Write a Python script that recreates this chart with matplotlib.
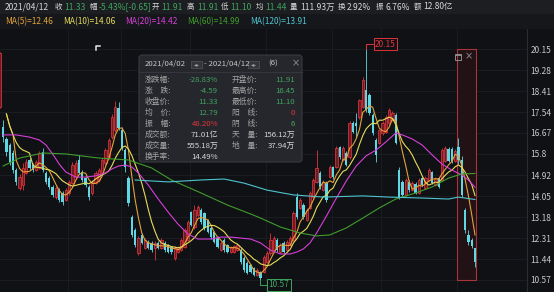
import matplotlib
matplotlib.use("Agg")
import matplotlib.pyplot as plt
import numpy as np
import pandas as pd
from matplotlib.patches import Rectangle, FancyBboxPatch

plt.rcParams['font.family'] = ['Noto Sans CJK SC', 'DejaVu Sans']

# daily candles, index 0 is the one cut by the left edge
opens = [17.75, 16.92, 16.40, 16.17, 15.84, 15.13, 14.39, 14.51, 15.01, 15.55,
         15.34, 15.13, 15.22, 15.88, 15.01, 14.80, 14.43, 14.01, 14.30, 14.18,
         13.89, 14.18, 14.60, 14.85, 15.55, 15.05, 14.80, 14.43, 14.18, 14.60,
         14.72, 15.01, 15.42, 15.67, 16.50, 16.79, 17.71, 16.79, 15.96, 14.80,
         13.18, 12.64, 11.69, 12.44, 11.90, 12.15, 12.11, 11.90, 12.11, 11.90,
         12.11, 12.02, 11.94, 11.48, 11.73, 11.81, 11.94, 12.23, 13.39, 12.77,
         13.27, 13.47, 13.35, 13.06, 12.73, 12.56, 12.31, 11.81, 12.23, 12.02,
         11.73, 11.73, 11.81, 11.81, 11.48, 11.28, 11.19, 11.07, 10.78, 10.90,
         10.90, 11.32, 11.69, 11.81, 12.23, 11.73, 12.11, 11.81, 12.02, 12.23,
         14.01, 13.56, 13.68, 13.06, 13.56, 14.01, 14.64, 15.01, 14.30, 14.60,
         14.85, 15.26, 15.26, 16.09, 15.55, 15.84, 15.67, 17.08, 17.08, 17.33,
         17.75, 18.45, 18.25, 17.42, 16.38, 16.26, 16.67, 16.71, 17.08, 17.21,
         17.42, 15.13, 14.64, 14.10, 14.64, 14.30, 14.55, 14.20, 14.80, 14.40,
         14.72, 15.05, 14.50, 14.80, 14.72, 15.50, 16.00, 16.00, 15.50, 16.10,
         15.55, 13.47, 12.44, 12.25, 11.91]
closes = [19.99, 16.50, 15.90, 15.46, 15.13, 14.64, 14.84, 15.22, 15.47, 15.22,
          15.13, 15.47, 15.84, 15.13, 14.64, 14.43, 14.10, 14.39, 13.89, 13.81,
          14.30, 14.64, 15.34, 15.42, 15.01, 14.72, 14.51, 14.01, 14.64, 15.01,
          15.13, 15.55, 15.96, 16.38, 17.33, 17.75, 16.88, 16.05, 15.26, 13.76,
          12.44, 12.02, 12.31, 12.11, 12.23, 11.90, 11.81, 12.11, 11.90, 12.23,
          11.81, 11.73, 11.73, 11.90, 11.94, 12.23, 12.64, 12.97, 12.85, 13.47,
          13.60, 12.97, 12.73, 12.56, 12.35, 12.15, 11.94, 12.11, 11.81, 11.73,
          11.94, 11.98, 12.02, 11.32, 10.98, 10.86, 10.90, 10.78, 10.98, 10.65,
          11.52, 11.69, 12.23, 12.31, 11.81, 12.02, 11.73, 12.15, 12.31, 13.35,
          13.18, 13.89, 13.18, 13.47, 14.18, 14.72, 15.22, 14.43, 14.64, 13.89,
          15.26, 14.85, 16.05, 15.67, 16.05, 15.34, 17.08, 16.71, 16.96, 18.04,
          18.87, 17.62, 17.50, 16.67, 15.76, 16.79, 17.08, 17.33, 17.62, 17.50,
          16.26, 14.01, 14.10, 14.72, 14.30, 14.60, 14.18, 14.72, 14.51, 14.80,
          15.13, 14.60, 14.80, 14.43, 15.96, 16.05, 15.50, 15.50, 15.92, 15.55,
          14.10, 12.64, 12.15, 11.98, 11.33]
highs = [20.05, 17.20, 16.50, 16.25, 15.95, 15.20, 14.95, 15.42, 15.60, 15.65,
         15.42, 15.55, 15.92, 16.05, 15.10, 14.88, 14.50, 14.47, 14.40, 14.25,
         14.38, 14.72, 15.45, 15.55, 15.75, 15.12, 14.88, 14.50, 14.72, 15.10,
         15.22, 15.62, 16.05, 16.45, 17.45, 18.00, 17.95, 16.90, 16.05, 14.90,
         13.25, 12.72, 12.40, 12.52, 12.30, 12.22, 12.18, 12.18, 12.18, 12.30,
         12.18, 12.08, 12.00, 11.96, 12.00, 12.30, 12.72, 13.05, 13.45, 13.68,
         13.68, 13.55, 13.40, 13.12, 12.80, 12.62, 12.38, 12.18, 12.30, 12.08,
         12.00, 12.04, 12.10, 11.88, 11.55, 11.35, 11.25, 11.12, 11.05, 10.96,
         11.60, 11.78, 12.50, 12.40, 12.30, 12.10, 12.18, 12.22, 12.38, 13.45,
         14.20, 13.98, 13.76, 13.55, 14.25, 14.80, 15.96, 15.10, 14.72, 14.68,
         15.35, 15.32, 16.12, 16.15, 16.12, 15.92, 17.15, 17.15, 17.50, 18.10,
         19.00, 20.15, 18.35, 17.50, 16.45, 16.85, 17.15, 17.40, 17.70, 17.58,
         17.50, 15.25, 14.72, 14.80, 14.70, 14.68, 14.62, 14.80, 14.86, 14.88,
         15.20, 15.10, 14.86, 14.86, 16.05, 16.12, 16.08, 16.10, 16.00, 16.45,
         15.70, 13.55, 12.64, 12.32, 11.91]
lows = [17.70, 16.30, 15.70, 15.35, 15.00, 14.50, 14.30, 14.30, 14.95, 15.15,
        15.05, 15.08, 15.18, 15.05, 14.55, 14.35, 14.00, 13.95, 13.80, 13.70,
        13.85, 14.10, 14.55, 14.80, 14.95, 14.65, 14.42, 13.90, 14.10, 14.55,
        14.65, 14.95, 15.35, 15.60, 16.40, 16.70, 16.80, 15.95, 15.05, 13.65,
        12.35, 11.95, 11.60, 12.05, 11.85, 11.85, 11.75, 11.40, 11.85, 11.85,
        11.75, 11.68, 11.66, 11.40, 11.68, 11.76, 11.90, 12.18, 12.80, 12.70,
        13.20, 12.90, 12.65, 12.50, 12.28, 12.10, 11.88, 11.76, 11.75, 11.68,
        11.68, 11.68, 11.76, 11.25, 10.92, 10.80, 10.85, 10.72, 10.72, 10.57,
        10.85, 11.28, 11.62, 11.75, 11.75, 11.68, 11.68, 11.76, 11.96, 12.18,
        13.10, 13.50, 13.10, 13.00, 13.50, 13.95, 14.58, 14.35, 14.25, 13.80,
        14.80, 14.78, 15.20, 15.60, 15.50, 15.28, 15.60, 16.65, 16.50, 17.25,
        17.70, 17.55, 17.40, 16.60, 15.46, 16.20, 16.60, 16.65, 17.00, 17.15,
        16.20, 13.95, 14.02, 14.05, 14.22, 14.25, 14.12, 14.15, 14.45, 14.35,
        14.66, 14.55, 14.45, 14.38, 14.66, 15.45, 15.45, 15.42, 15.45, 15.40,
        14.00, 12.50, 12.02, 11.90, 11.10]

# first candle of each month (2020/10 .. 2021/04)
month_start = [20, 36, 57, 80, 100, 115, 138]

# slow moving averages (candle index, price)
ma20_idx = [1, 5, 9, 12, 14, 16, 18, 20, 23, 26, 29, 32, 34, 36, 38, 40, 42, 45,
            48, 51, 54, 57, 60, 64, 67, 70, 73, 76, 79, 82, 85, 88, 90, 92, 94,
            96, 99, 102, 105, 108, 111, 114, 117, 120, 122, 125, 128, 131, 134,
            137, 140, 142, 144]
ma20_val = [16.59, 16.59, 16.50, 16.38, 16.17, 15.80, 15.38, 15.05, 14.84, 14.84,
            14.89, 15.01, 15.18, 15.30, 15.34, 15.26, 15.01, 14.51, 13.93, 13.39,
            12.89, 12.48, 12.27, 12.27, 12.35, 12.35, 12.31, 12.27, 12.11, 11.81,
            11.65, 11.65, 11.73, 11.86, 12.11, 12.52, 13.23, 13.97, 14.68, 15.30,
            15.72, 15.96, 16.30, 16.67, 16.59, 16.42, 16.17, 15.76, 15.38, 15.13,
            14.93, 14.72, 14.42]
ma60_idx = [1, 6, 13, 20, 30, 39, 46, 52, 61, 69, 76, 79, 85, 91, 96, 100, 105,
            110, 115, 120, 126, 131, 136, 140, 144]
ma60_val = [15.30, 15.63, 15.84, 15.80, 15.63, 15.55, 15.22, 14.72, 14.18, 13.68,
            13.31, 13.14, 12.77, 12.52, 12.40, 12.44, 12.73, 13.14, 13.56, 13.93,
            14.18, 14.43, 14.80, 14.97, 14.99]
ma120_idx = [41, 51, 61, 68, 74, 81, 89, 98, 110, 118, 128, 136, 139, 144]
ma120_val = [14.72, 14.64, 14.72, 14.76, 14.59, 14.30, 14.10, 14.01, 14.06, 14.01,
             13.97, 13.93, 14.01, 13.91]

price_ticks = [20.15, 19.28, 18.41, 17.54, 16.67, 15.8, 14.92, 14.05, 13.18,
               12.31, 11.44, 10.57]
price_labels = ['20.15', '19.28', '18.41', '17.54', '16.67', '15.8', '14.92',
                '14.05', '13.18', '12.31', '11.44', '10.57']

hdr_date = '2021/04/12'
hdr_keys = ['收', '幅', '开', '高', '低', '均', '量', '换', '振', '额']
hdr_vals = ['11.33', '-5.43%[-0.65]', '11.91', '11.91', '11.10', '11.44',
            '111.93万', '2.92%', '6.76%', '12.80亿']
ma_names = ['MA(5)', 'MA(10)', 'MA(20)', 'MA(60)', 'MA(120)']
ma_last = ['12.46', '14.06', '14.42', '14.99', '13.91']

tip_from, tip_to, tip_count = '2021/04/02', '2021/04/12', '(6)'
tip_left_keys = ['涨跌幅:', '涨\u3000跌:', '收盘价:', '均\u3000价:', '振\u3000幅:',
                 '成交额:', '成交量:', '换手率:']
tip_left_vals = ['-28.83%', '-4.59', '11.33', '12.79', '48.20%', '71.01亿',
                 '555.18万', '14.49%']
tip_right_keys = ['开盘价:', '最高价:', '最低价:', '阳\u3000线:', '阴\u3000线:',
                  '天\u3000量:', '地\u3000量:']
tip_right_vals = ['11.91', '16.45', '11.10', '0', '6', '156.12万', '37.94万']

W, H = 554, 292
BG = '#101115'
RED = '#e0353c'
CYAN = '#5fd8e3'
GRN = '#3fa560'
WHT = '#d8d8d8'
GRY = '#a4a4a4'
ma_cols = ['#e2a33a', '#e6dc5a', '#d63fd8', '#409c2d', '#4ec4cf']

fig = plt.figure(figsize=(W / 100, H / 100), dpi=100, facecolor=BG)
ax = fig.add_axes([0, 0, 527 / W, 263 / H])
ax.set_facecolor(BG)
ax.set_xlim(0.06, 159.76)
ax.set_ylim(10.072, 20.985)

o = np.array(opens)
c = np.array(closes)
hi = np.array(highs)
lo = np.array(lows)
idx = np.arange(len(c))
up = c > o
dn = ~up

for m in month_start:
    ax.axvline(m + 0.65, color='#1c1d22', lw=0.6, zorder=0)

# selected range box
sel0, sel1 = 139, 144
ax.add_patch(Rectangle((sel0 - 0.45, lo.min()), sel1 - sel0 + 0.9, hi.max() - lo.min(),
                       fc='#221216', ec='#a8353a', lw=0.8, zorder=1))

ax.vlines(idx[up], lo[up], hi[up], color=RED, lw=0.6, zorder=3)
ax.vlines(idx[dn], lo[dn], hi[dn], color=CYAN, lw=0.6, zorder=3)
ax.bar(idx[up], c[up] - o[up], bottom=o[up], width=0.72, facecolor='#6a1d22',
       edgecolor=RED, linewidth=0.55, zorder=3)
ax.bar(idx[dn], o[dn] - c[dn], bottom=c[dn], width=0.72, color=CYAN,
       linewidth=0, zorder=3)

cs = pd.Series(c)
ma5 = cs.rolling(5, min_periods=1).mean()
ma10 = cs.rolling(10, min_periods=1).mean()
ax.plot(idx[2:], ma5[2:], color=ma_cols[0], lw=0.8, zorder=4)
ax.plot(idx[2:], ma10[2:], color=ma_cols[1], lw=0.8, zorder=4)
ax.plot(ma20_idx, ma20_val, color=ma_cols[2], lw=0.8, zorder=4)
ax.plot(ma60_idx, ma60_val, color=ma_cols[3], lw=0.8, zorder=4)
ax.plot(ma120_idx, ma120_val, color=ma_cols[4], lw=0.8, zorder=4)

# high / low price tags
imax, imin = int(hi.argmax()), int(lo.argmin())
ax.annotate(f'{hi[imax]:.2f}', xy=(imax, hi[imax]), xytext=(9, 5),
            textcoords='offset pixels', ha='left', va='center', fontsize=6,
            color=RED, zorder=6,
            bbox=dict(boxstyle='square,pad=0.15', fc=BG, ec=RED, lw=0.7),
            arrowprops=dict(arrowstyle='-', color=RED, lw=0.7, shrinkA=0, shrinkB=0,
                            connectionstyle='angle,angleA=0,angleB=90,rad=0'))
ax.annotate(f'{lo[imin]:.2f}', xy=(imin, lo[imin]), xytext=(8, -5),
            textcoords='offset pixels', ha='left', va='center', fontsize=6,
            color=GRN, zorder=6,
            bbox=dict(boxstyle='square,pad=0.15', fc=BG, ec=GRN, lw=0.7),
            arrowprops=dict(arrowstyle='-', color=GRN, lw=0.7, shrinkA=0, shrinkB=0,
                            connectionstyle='angle,angleA=0,angleB=90,rad=0'))

ax.yaxis.tick_right()
ax.set_yticks(price_ticks, price_labels)
ax.set_xticks([])
ax.tick_params(axis='y', length=0, pad=2.5, labelsize=6, labelcolor='#c9c9c9')
ax.grid(axis='y', color='#1e1f25', lw=0.6)
ax.set_axisbelow(True)
for s in ['top', 'left', 'bottom']:
    ax.spines[s].set_visible(False)
ax.spines['right'].set_color('#2b2c31')
ax.spines['right'].set_linewidth(0.8)

# overlay in pixel units for the interface parts
ov = fig.add_axes([0, 0, 1, 1])
ov.set_xlim(0, W)
ov.set_ylim(H, 0)
ov.axis('off')

ov.add_patch(Rectangle((0, 0), W, 14, fc='#1d1e22', lw=0))
ov.add_patch(Rectangle((0, 14), W, 15, fc='#16171b', lw=0))

hdr_kx = [55, 89, 152, 187, 221, 256, 290, 338, 376, 414]
hdr_vx = [64, 99, 161, 197, 230, 265, 300, 347, 386, 423]
ov.text(5, 7, hdr_date, color=WHT, fontsize=6.1, va='center')
for k, (key, val) in enumerate(zip(hdr_keys, hdr_vals)):
    vcol = GRN if k < 6 else WHT
    ov.text(hdr_kx[k], 7, key, color=WHT, fontsize=5.4, va='center')
    ov.text(hdr_vx[k], 7, val, color=vcol, fontsize=6.1, va='center')

ma_x = [5, 63, 125, 187, 250]
for k in range(5):
    ov.text(ma_x[k], 22, f'{ma_names[k]}={ma_last[k]}', color=ma_cols[k],
            fontsize=6, va='center')

# small cursor mark
ov.plot([96, 96, 100], [50, 45.5, 45.5], color='#e8e8e8', lw=1.1)

# icons above the selection box
ov.add_patch(Rectangle((454.5, 53.5), 6, 6, fc='none', ec='#8c8c8c', lw=0.7))
ov.plot([454.5, 460.5], [55, 55], color='#8c8c8c', lw=0.7)
ov.text(469, 56.5, '×', color='#8c8c8c', fontsize=7, ha='center', va='center',
        family=['DejaVu Sans'])

# tooltip
ov.add_patch(FancyBboxPatch((139, 55), 163, 107, boxstyle='round,pad=0,rounding_size=3',
                            fc='#26272c', ec='#3e3f44', lw=0.7, zorder=10))
ov.plot([139.5, 301.5], [72, 72], color='#3a3b40', lw=0.6, zorder=11)
ov.text(145, 64, tip_from, color='#c6c6c6', fontsize=5.6, va='center', zorder=12)
ov.text(204, 64, '- ' + tip_to, color='#c6c6c6', fontsize=5.6, va='center', zorder=12)
ov.text(268, 64, tip_count, color='#c6c6c6', fontsize=5.6, va='center', zorder=12)
ov.text(296, 63.5, '×', color='#8a8a8a', fontsize=7, ha='center', va='center',
        zorder=12, family=['DejaVu Sans'])
for bx in [191, 248]:
    ov.add_patch(Rectangle((bx, 60.5), 11, 7.5, fc='#34353a', ec='#55565b', lw=0.5,
                           zorder=11))
    ov.text(bx + 5.5, 64.2, '◂▸', color='#9a9a9a', fontsize=4.2, ha='center',
            va='center', zorder=12, family=['DejaVu Sans'])

row_y = [80, 91, 102, 113, 123.5, 134.5, 146, 157]
left_cols = [GRN, GRN, GRN, GRN, RED, WHT, WHT, WHT]
right_cols = [GRN, GRN, GRN, RED, GRN, WHT, WHT]
for k in range(len(tip_left_keys)):
    ov.text(145, row_y[k], tip_left_keys[k], color=GRY, fontsize=5.6, va='center', zorder=12)
    ov.text(218, row_y[k], tip_left_vals[k], color=left_cols[k], fontsize=5.6,
            ha='right', va='center', zorder=12)
for k in range(len(tip_right_keys)):
    ov.text(232, row_y[k], tip_right_keys[k], color=GRY, fontsize=5.6, va='center', zorder=12)
    ov.text(295, row_y[k], tip_right_vals[k], color=right_cols[k], fontsize=5.6,
            ha='right', va='center', zorder=12)

fig.savefig('out.png', dpi=100, facecolor=BG)
